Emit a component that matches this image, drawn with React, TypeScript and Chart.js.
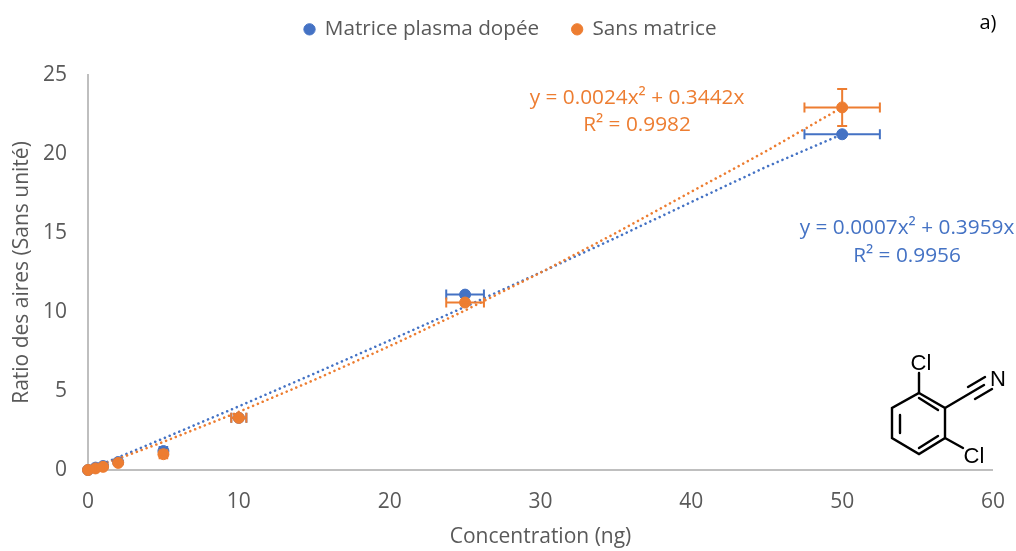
import React, { useEffect, useRef } from "react";
import { Chart, registerables } from "chart.js";

Chart.register(...registerables);

const concentrations = [0, 0.5, 1, 2, 5, 10, 25, 50];
const plasmaValues = [0, 0.15, 0.25, 0.5, 1.2, 3.3, 11.1, 21.25];
const sansValues = [0, 0.1, 0.2, 0.45, 1.0, 3.3, 10.6, 22.95];
const xErrors = [0, 0.03, 0.05, 0.1, 0.25, 0.5, 1.25, 2.5];
const sansYErrors = [0, 0, 0, 0, 0, 0, 0, 1.17];
const trendX = [0, 5, 10, 15, 20, 25, 30, 35, 40, 45, 50];
const plasmaTrend = [0, 2.0, 4.03, 6.1, 8.2, 10.33, 12.5, 14.7, 16.96, 19.2, 21.25];
const sansTrend = [0, 1.78, 3.68, 5.7, 7.84, 10.1, 12.49, 15.0, 17.61, 20.2, 22.95];
const xTicks = [0, 10, 20, 30, 40, 50, 60];

const BLUE = "#4472C4";
const ORANGE = "#ED7D31";
const FONT = "'Open Sans', sans-serif";

const toPoints = (xs: number[], ys: number[]) => xs.map((x, i) => ({ x, y: ys[i] }));

const errorBars = {
  id: "errorBars",
  afterDatasetDraw(chart: any, args: any) {
    const ds = chart.data.datasets[args.index];
    if (!ds.xErr) return;
    const { ctx, scales } = chart;
    const cap = 5;
    ctx.save();
    ctx.strokeStyle = ds.borderColor;
    ctx.lineWidth = 2;
    ds.data.forEach((p: any, i: number) => {
      const px = scales.x.getPixelForValue(p.x);
      const py = scales.y.getPixelForValue(p.y);
      const ex = ds.xErr[i];
      if (ex) {
        const a = scales.x.getPixelForValue(p.x - ex);
        const b = scales.x.getPixelForValue(p.x + ex);
        ctx.beginPath();
        ctx.moveTo(a, py); ctx.lineTo(b, py);
        ctx.moveTo(a, py - cap); ctx.lineTo(a, py + cap);
        ctx.moveTo(b, py - cap); ctx.lineTo(b, py + cap);
        ctx.stroke();
      }
      const ey = ds.yErr ? ds.yErr[i] : 0;
      if (ey) {
        const a = scales.y.getPixelForValue(p.y - ey);
        const b = scales.y.getPixelForValue(p.y + ey);
        ctx.beginPath();
        ctx.moveTo(px, a); ctx.lineTo(px, b);
        ctx.moveTo(px - cap, a); ctx.lineTo(px + cap, a);
        ctx.moveTo(px - cap, b); ctx.lineTo(px + cap, b);
        ctx.stroke();
      }
    });
    ctx.restore();
  },
};

const legendSpacer = {
  id: "legendSpacer",
  beforeInit(chart: any) {
    const orig = chart.legend.fit;
    chart.legend.fit = function () {
      orig.call(this);
      this.height = 89;
    };
  },
  afterLayout(chart: any) {
    chart.legend.left += 11;
    chart.legend.right += 11;
  },
};

const note = (left: number, top: number, color: string, text: string, size = 20.8) => (
  <div
    style={{
      position: "absolute",
      left,
      top,
      transform: "translate(-50%, -50%)",
      color,
      font: `${size}px ${FONT}`,
      whiteSpace: "nowrap",
    }}
  >
    {text}
  </div>
);

const Molecule = () => (
  <svg width={1016} height={551} style={{ position: "absolute", left: 0, top: 0, pointerEvents: "none" }}>
    <g stroke="#000" strokeWidth={2.4} fill="none" strokeLinecap="round">
      <path d="M919 393 L945 408 L945 438 L919 454 L892 438 L892 408 Z" />
      <path d="M919 398 L938 410 M900 415 L900 433 M919 448 L938 436" />
      <path d="M919 393 L919 373 M945 438 L963 448 M945 408 L984 385" />
      <path d="M968 387 L985 377 M975 399 L992 389" />
    </g>
    <g fontFamily="'Liberation Sans', Arial, sans-serif" fontSize={22} fill="#000" textAnchor="middle">
      <text x={921} y={370}>Cl</text>
      <text x={974} y={463}>Cl</text>
      <text x={998} y={386}>N</text>
    </g>
  </svg>
);

export default function App() {
  const ref = useRef<HTMLCanvasElement | null>(null);

  useEffect(() => {
    if (!ref.current) return;
    const tickFont = { family: FONT, size: 21 };
    const titleFont = { family: FONT, size: 21 };
    const chart = new Chart(ref.current, {
      type: "scatter",
      plugins: [errorBars, legendSpacer],
      data: {
        datasets: [
          {
            label: "Sans matrice",
            data: toPoints(concentrations, sansValues),
            backgroundColor: ORANGE,
            borderColor: ORANGE,
            pointRadius: 5.5,
            order: 1,
            clip: false,
            xErr: xErrors,
            yErr: sansYErrors,
          },
          {
            label: "Matrice plasma dopée",
            data: toPoints(concentrations, plasmaValues),
            backgroundColor: BLUE,
            borderColor: BLUE,
            pointRadius: 5.5,
            order: 2,
            clip: false,
            xErr: xErrors,
          },
          {
            label: "Poly. (Sans matrice)",
            data: toPoints(trendX, sansTrend),
            showLine: true,
            borderColor: ORANGE,
            borderWidth: 2.6,
            borderDash: [0.01, 5.2],
            borderCapStyle: "round",
            pointRadius: 0,
            order: 3,
          },
          {
            label: "Poly. (Matrice plasma dopée)",
            data: toPoints(trendX, plasmaTrend),
            showLine: true,
            borderColor: BLUE,
            borderWidth: 2.6,
            borderDash: [0.01, 5.2],
            borderCapStyle: "round",
            pointRadius: 0,
            order: 4,
          },
        ] as any,
      },
      options: {
        animation: false,
        responsive: false,
        layout: { padding: { top: -14, left: 0, right: 17, bottom: 0 } },
        plugins: {
          tooltip: { enabled: false },
          legend: {
            position: "top",
            labels: {
              usePointStyle: true,
              pointStyle: "circle",
              boxHeight: 8,
              boxWidth: 10,
              padding: 33,
              color: "#595959",
              font: { family: FONT, size: 20.7 },
              filter: (item: any) => !item.text.startsWith("Poly."),
              sort: (a: any, b: any) => b.datasetIndex - a.datasetIndex,
            },
          },
        },
        scales: {
          x: {
            type: "linear",
            min: 0,
            max: 60,
            afterBuildTicks: (axis: any) => {
              axis.ticks = xTicks.map((value) => ({ value }));
            },
            afterFit: (axis: any) => {
              axis.height = 81;
            },
            grid: { display: false },
            border: { display: true, color: "#BFBFBF", width: 2 },
            ticks: { color: "#595959", font: tickFont, padding: 11, maxRotation: 0, autoSkip: false },
            title: {
              display: true,
              text: "Concentration (ng)",
              color: "#595959",
              font: titleFont,
              padding: { top: 6, bottom: 1 },
            },
          },
          y: {
            type: "linear",
            min: 0,
            max: 25,
            afterFit: (axis: any) => {
              axis.width = 88;
            },
            grid: { display: false },
            border: { display: true, color: "#BFBFBF", width: 2 },
            ticks: { stepSize: 5, color: "#595959", font: tickFont, padding: 13 },
            title: {
              display: true,
              text: "Ratio des aires (Sans unité)",
              color: "#595959",
              font: titleFont,
              padding: { top: 9.5, bottom: 0 },
            },
          },
        },
      },
    });
    return () => chart.destroy();
  }, []);

  return (
    <div style={{ position: "absolute", left: 0, top: 0, width: 1016, height: 551, background: "#fff", overflow: "hidden" }}>
      <canvas ref={ref} width={1016} height={551} style={{ display: "block" }} />
      {note(637, 96, ORANGE, "y = 0.0024x² + 0.3442x")}
      {note(637, 123, ORANGE, "R² = 0.9982")}
      {note(907, 226, BLUE, "y = 0.0007x² + 0.3959x")}
      {note(907, 254, BLUE, "R² = 0.9956")}
      {note(988, 21, "#000", "a)", 20)}
      <Molecule />
    </div>
  );
}
